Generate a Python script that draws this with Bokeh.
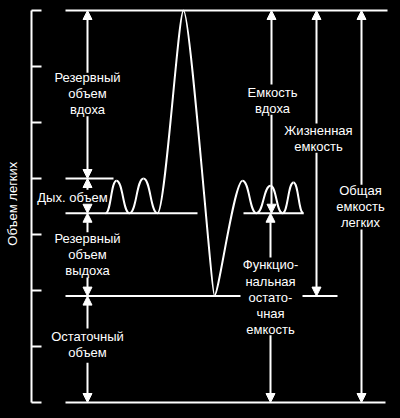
import math
from bokeh.plotting import figure
from bokeh.models import Range1d, Arrow, NormalHead, ColumnDataSource
from bokeh.embed import file_html
from bokeh.resources import INLINE
from bokeh.core.properties import value

# ---- data: lung volumes (chart tick units) ----
residual_volume = 1.9
expiratory_reserve = 1.48
tidal_volume = 0.62
inspiratory_reserve = 3.0

rv_level = residual_volume
frc_level = rv_level + expiratory_reserve
tidal_top = frc_level + tidal_volume
tlc_level = tidal_top + inspiratory_reserve

axis_ticks = [0, 1, 2, 3, 4, 5, 6, 7]
axis_title = "Объем легких"

# spirogram trace extrema (time, volume)
trace_t = [105, 116, 129, 143, 157, 183, 214, 242, 256, 270, 282, 293, 303]
trace_v = [3.38, 3.96, 3.38, 4.0, 3.38, 7.0, 1.91, 3.96, 3.38, 3.87, 3.38, 3.93, 3.38]

labels = ["Резервный\nобъем\nвдоха", "Дых. объем", "Резервный\nобъем\nвыдоха",
          "Остаточный\nобъем", "Емкость\nвдоха", "Жизненная\nемкость",
          "Общая\nемкость\nлегких", "Функцио-\nнальная\nостато-\nчная\nемкость"]

# ---- figure ----
FONT = "Liberation Sans"
p = figure(width=400, height=418, x_range=Range1d(0, 400),
           y_range=Range1d(-16 / 56, 7 + 10 / 56),
           output_backend="svg", toolbar_location=None,
           x_axis_location=None, y_axis_location=None,
           min_border_left=0, min_border_right=0, min_border_top=0, min_border_bottom=0)
p.background_fill_color = "black"
p.border_fill_color = "black"
p.outline_line_color = None
p.grid.visible = False

# volume axis: line, inward ticks, title
p.segment(x0=[31], y0=[min(axis_ticks)], x1=[31], y1=[max(axis_ticks)],
          line_color="white", line_width=2)
p.segment(x0=[31] * len(axis_ticks), y0=axis_ticks, x1=[41] * len(axis_ticks), y1=axis_ticks,
          line_color="white", line_width=2)
p.text(x=[12], y=[3.55], text=[axis_title], angle=math.pi / 2, text_color="white",
       text_font=value(FONT), text_font_size="13px", text_align="center",
       text_baseline="middle")

# level lines
lev = ColumnDataSource(dict(
    x0=[65, 65, 65, 243, 65, 302, 65],
    x1=[387, 113, 197, 303, 240, 337, 385],
    y=[tlc_level, tidal_top, frc_level, frc_level, rv_level, rv_level, 0],
))
p.segment("x0", "y", "x1", "y", source=lev, line_color="white", line_width=2)

# spirogram as bezier segments with horizontal tangents at extrema
k0 = [0.5, 0.5, 0.5, 0.5, 0.3, 0.22, 0.15, 0.5, 0.5, 0.5, 0.5, 0.5]
k1 = [0.5, 0.5, 0.5, 0.5, 0.2, 0.1, 0.3, 0.5, 0.5, 0.5, 0.5, 0.5]
bx0, by0, bx1, by1, cx0, cy0, cx1, cy1 = [], [], [], [], [], [], [], []
for i in range(len(trace_t) - 1):
    a, b = trace_t[i], trace_t[i + 1]
    d = b - a
    bx0.append(a); by0.append(trace_v[i]); bx1.append(b); by1.append(trace_v[i + 1])
    cx0.append(a + k0[i] * d); cy0.append(trace_v[i])
    cx1.append(b - k1[i] * d); cy1.append(trace_v[i + 1])
p.bezier(x0=bx0, y0=by0, x1=bx1, y1=by1, cx0=cx0, cy0=cy0, cx1=cx1, cy1=cy1,
         line_color="white", line_width=2)

# labels (layout positions)
lab_x = [87, 72, 87, 87, 272, 318, 360, 270]
lab_y = [5.52, 3.66, 2.64, 1.04, 5.40, 4.72, 3.50, 1.88]
p.text(x=lab_x, y=lab_y, text=labels, text_color="white",
       text_font=value(FONT), text_font_size="13px", text_align="center",
       text_baseline="middle", text_line_height=1.08)

# arrows: from label edge to level
arr = ColumnDataSource(dict(
    xs=[87, 87, 87, 87, 87, 87, 87, 87, 271, 271, 316, 316, 361, 361, 270, 270],
    ys=[5.89, 5.11, 3.80, 3.52, 3.04, 2.23, 1.32, 0.71, 5.68, 5.14, 4.98, 4.46, 3.89, 3.09, 2.59, 1.20],
    ye=[tlc_level, tidal_top, tidal_top, frc_level, frc_level, rv_level, rv_level, 0,
        tlc_level, frc_level, tlc_level, rv_level, tlc_level, 0, frc_level, 0],
))
p.add_layout(Arrow(end=NormalHead(size=9, fill_color="white", line_color="white", line_width=1),
                   x_start="xs", y_start="ys", x_end="xs", y_end="ye", source=arr,
                   line_color="white", line_width=2))

html = file_html(p, INLINE)
html = html.replace("</head>", "<style>html,body{margin:0;padding:0;background:#000;}</style></head>", 1)
open("out.html", "w").write(html)
